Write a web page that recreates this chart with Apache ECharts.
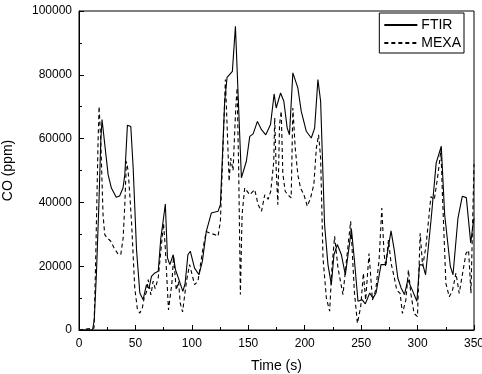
<!DOCTYPE html>
<html>
<head>
<meta charset="utf-8">
<script src="https://cdn.jsdelivr.net/npm/echarts@6/dist/echarts.min.js"></script>
<style>
  html, body { margin: 0; padding: 0; background: #fff; }
  #chart { width: 482px; height: 374px; }
</style>
</head>
<body>
<div id="chart"></div>
<script>
// FTIR trace (solid)
const ftirTime = [0, 12, 13.5, 15.4, 17.5, 19.3, 20.4, 25.8, 28.7, 33, 36, 39, 40.6, 42.9, 45.9, 48, 51, 53.9, 56.8, 59.8,
  62, 64.2, 67.2, 70.2, 72.5, 74.5, 76.5, 78.4, 80.5, 83.5, 85.5, 89, 92, 94, 96.5, 98.6, 102.4, 106.3, 109.3, 112.8,
  117.3, 123.2, 125.3, 129.1, 131.2, 135.9, 138.6, 143.9, 148.3, 151.3, 154.3, 158.1, 161.7, 165.5, 169.7, 172.9, 174.7, 178.6, 181.5, 184.5,
  186.5, 189.5, 193.9, 196.9, 201.4, 205.8, 208.8, 211.7, 214.1, 217.6, 220.6, 223.6, 225.9, 228.9, 232.5, 236, 241.4, 244, 247.2, 250.8,
  253.7, 257.6, 260.5, 263.2, 267.6, 271.6, 276.5, 279.5, 282.5, 285.4, 288.4, 291.4, 295.8, 299.4, 301.7, 304.7, 307.1, 312.1, 316.5, 321,
  324, 329, 331.4, 335.8, 339.6, 343.2, 347.1, 349.1, 350];
const ftirCO = [0, 0, 3000, 17300, 38200, 59100, 66000, 48700, 44500, 41600, 42000, 44500, 48700, 64200, 63800, 50800, 25000, 11600, 9500, 14200,
  13000, 16800, 17900, 18400, 28800, 34000, 39500, 22600, 20500, 23600, 18900, 15300, 12100, 14500, 23600, 24700, 19400, 17300, 21500, 30900,
  36700, 37200, 39300, 71700, 79200, 81100, 95200, 47700, 52900, 60700, 61500, 65400, 62800, 61200, 64400, 74000, 69600, 74300, 71700, 63300,
  61200, 80600, 75900, 68600, 62300, 60200, 63300, 78500, 71700, 33000, 20500, 14200, 23600, 26800, 23600, 17300, 31600, 22000, 9000, 9500,
  8200, 11600, 10000, 11600, 20500, 20500, 31100, 24700, 16300, 13200, 11100, 15800, 12100, 9000, 20500, 20400, 17300, 35100, 52400, 57600,
  36200, 20000, 17300, 35100, 41900, 41500, 27300, 33000, 35000];

// MEXA trace (dashed)
const mexaTime = [0, 13.3, 14.5, 15.7, 16.9, 17.8, 19.3, 21.3, 22.8, 25.1, 28, 31.1, 34.6, 37, 39.1, 40.6, 42, 43.5, 45, 46.5,
  49.4, 51.8, 53.9, 56, 57.7, 59.8, 61.3, 63.7, 65.7, 67.5, 70.2, 72.5, 74.9, 76.4, 79.3, 82.3, 83.8, 86.2, 88.2, 89.7,
  91.8, 94.2, 95.5, 98, 102.4, 105.4, 109.9, 112.8, 115.8, 120.2, 123.2, 125.3, 127.6, 129.7, 131.2, 133, 134.4, 136.5, 138.9, 140.1,
  141.5, 143, 144.5, 146.8, 151.3, 155.7, 158.7, 161.7, 164.6, 167.6, 169.9, 172.6, 173.4, 174.7, 176.2, 177.7, 179.2, 180.6, 182.7, 185,
  188, 189.5, 191.6, 193.9, 196.3, 199.3, 202.3, 205.2, 208.1, 210.3, 212.3, 214.1, 216.2, 219.2, 222.1, 224.1, 226.5, 229.5, 233.9, 236.9,
  240.7, 244, 246.7, 249.6, 252, 254, 257, 260, 262.9, 265.9, 268.3, 270.3, 271.8, 274.2, 276.5, 279.2, 281.6, 284.5, 286.6, 289.6,
  291.9, 294, 296.9, 299.9, 302.3, 304.5, 307.4, 311.8, 314.8, 317.8, 320.7, 322.2, 325.1, 328.1, 331, 334, 336.9, 339.9, 342.9, 345.2,
  347.3, 350];
const mexaCO = [0, 600, 17300, 38200, 59100, 70100, 59100, 36200, 29900, 28800, 27900, 25700, 23800, 23600, 28800, 39300, 52900, 50000, 42400, 34100,
  13200, 6400, 5300, 6700, 10000, 12000, 15800, 11000, 15300, 13000, 16300, 24700, 33400, 26100, 6300, 14600, 23000, 12500, 15200, 8400,
  5700, 12500, 15800, 20500, 14200, 15300, 25700, 30900, 30400, 29900, 29400, 34100, 57000, 78500, 64400, 46600, 53900, 50000, 69600, 75900,
  50000, 11100, 36200, 44500, 42400, 44000, 39300, 37200, 42400, 41000, 43500, 52900, 66500, 50800, 39300, 64400, 68600, 49000, 43500, 42400,
  41400, 69600, 57000, 48700, 44500, 42400, 38800, 41400, 45600, 57000, 61200, 53900, 22600, 10000, 5900, 19400, 29400, 19400, 11100, 21500,
  34100, 12000, 2100, 7300, 17800, 9400, 24000, 9400, 12500, 21900, 38200, 24000, 19800, 28200, 21000, 16700, 12500, 11500, 5200, 9400,
  18800, 11500, 5200, 4200, 30300, 20000, 26100, 41800, 40800, 48000, 56400, 40800, 14600, 10400, 12500, 17800, 11500, 17800, 24000, 25000,
  11500, 52000];

const xTicks = [0, 50, 100, 150, 200, 250, 300, 350];
const yTicks = [0, 20000, 40000, 60000, 80000, 100000];

const zip = (a, b) => a.map((v, i) => [v, b[i]]);

const font = '"Liberation Sans", Arial, sans-serif';
const chart = echarts.init(document.getElementById('chart'));

chart.setOption({
  animation: false,
  textStyle: { fontFamily: font, color: '#000' },
  grid: {
    left: 79, right: 8, top: 11, bottom: 44, outerBoundsMode: 'none',
    show: true, borderColor: '#000', borderWidth: 1
  },
  legend: {
    orient: 'vertical', right: 18, top: 13,
    padding: [5, 3, 3, 4], itemGap: 4, itemWidth: 33, itemHeight: 14,
    borderColor: '#000', borderWidth: 1,
    itemStyle: { color: 'transparent', borderColor: 'transparent', borderWidth: 0, opacity: 0 },
    textStyle: { fontFamily: font, fontSize: 14, color: '#000', padding: [0, 0, 0, -1] },
    data: ['FTIR', 'MEXA']
  },
  xAxis: {
    type: 'value', min: xTicks[0], max: xTicks[xTicks.length - 1], interval: 50,
    name: 'Time (s)', nameLocation: 'middle', nameGap: 29,
    nameTextStyle: { fontFamily: font, fontSize: 14, color: '#000' },
    axisLine: { lineStyle: { color: '#000', width: 1 } },
    axisTick: { inside: true, length: 5, lineStyle: { color: '#000' } },
    minorTick: { show: true, splitNumber: 2, length: 3, lineStyle: { color: '#000' } },
    splitLine: { show: false },
    axisLabel: { fontFamily: font, fontSize: 12, color: '#000', margin: 8 }
  },
  yAxis: {
    type: 'value', min: yTicks[0], max: yTicks[yTicks.length - 1], interval: 20000,
    name: 'CO (ppm)', nameLocation: 'middle', nameGap: 64,
    nameTextStyle: { fontFamily: font, fontSize: 14, color: '#000' },
    axisLine: { show: true, lineStyle: { color: '#000', width: 1 } },
    axisTick: { show: true, inside: true, length: 5, lineStyle: { color: '#000' } },
    minorTick: { show: true, splitNumber: 2, length: 3, lineStyle: { color: '#000' } },
    splitLine: { show: false },
    axisLabel: { fontFamily: font, fontSize: 12, color: '#000', margin: 7, formatter: v => String(v) }
  },
  series: [
    {
      name: 'FTIR', type: 'line', data: zip(ftirTime, ftirCO),
      symbol: 'none', color: '#000',
      lineStyle: { color: '#000', width: 1.1 }
    },
    {
      name: 'MEXA', type: 'line', data: zip(mexaTime, mexaCO),
      symbol: 'none', color: '#000',
      lineStyle: { color: '#000', width: 1.1, type: [4, 3] }
    }
  ]
});
</script>
</body>
</html>
